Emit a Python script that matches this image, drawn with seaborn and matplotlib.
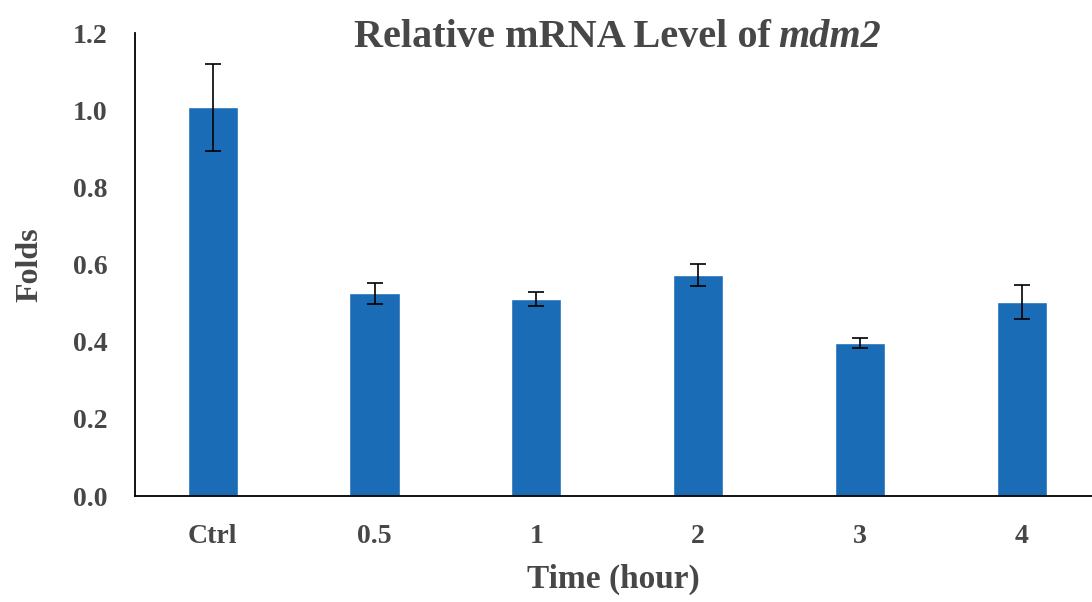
import matplotlib
matplotlib.use("Agg")
import matplotlib.pyplot as plt
import seaborn as sns
import pandas as pd
import numpy as np

categories = ["Ctrl", "0.5", "1", "2", "3", "4"]
folds = [1.008, 0.526, 0.510, 0.573, 0.396, 0.503]
errors = [0.113, 0.027, 0.018, 0.029, 0.013, 0.045]
yticks = [0.0, 0.2, 0.4, 0.6, 0.8, 1.0, 1.2]

sns.set_style("white")
plt.rcParams['font.family'] = ['Liberation Serif', 'DejaVu Serif']
plt.rcParams['font.weight'] = 'bold'

text_color = "#474747"
bar_color = "#1b6cb7"

df = pd.DataFrame({"Time": categories, "Folds": folds})

fig = plt.figure(figsize=(10.92, 6.02), dpi=100)
ax = fig.add_axes([0.1236, 0.176, 0.876, 0.769])

sns.barplot(data=df, x="Time", y="Folds", order=categories, color=bar_color,
            width=0.31, errorbar=None, saturation=1, ax=ax)
xs = np.arange(len(categories))
ax.errorbar(xs, folds, yerr=errors, fmt="none", ecolor="black",
            elinewidth=1.2, capsize=5.5, capthick=1.2)

ax.set_xlim(-0.48, 5.43)
ax.set_ylim(0, 1.2)
ax.set_yticks(yticks)
ax.set_yticklabels([f"{t:.1f}" for t in yticks])

for s in ["top", "right"]:
    ax.spines[s].set_visible(False)
for s in ["left", "bottom"]:
    ax.spines[s].set_color("black")
    ax.spines[s].set_linewidth(1.3)

ax.tick_params(axis="y", direction="in", length=8, width=1.3, colors="black",
               labelcolor=text_color, labelsize=20, pad=20)
ax.tick_params(axis="x", length=0, labelcolor=text_color, labelsize=20, pad=20)
for lbl in ax.get_xticklabels() + ax.get_yticklabels():
    lbl.set_fontweight("bold")

ax.set_xlabel("Time (hour)", fontsize=24, fontweight="bold", color=text_color, labelpad=11)
ax.set_ylabel("Folds", fontsize=23, fontweight="bold", color=text_color, labelpad=20)

ty = 1 - 47 / 602
fig.text(771 / 1092, ty, "Relative mRNA Level of", fontsize=29, fontweight="bold",
         color=text_color, ha="right", va="baseline")
fig.text(778 / 1092, ty, "mdm2", fontsize=29, fontweight="bold", fontstyle="italic",
         color=text_color, ha="left", va="baseline")

fig.savefig("out.png", dpi=100)
